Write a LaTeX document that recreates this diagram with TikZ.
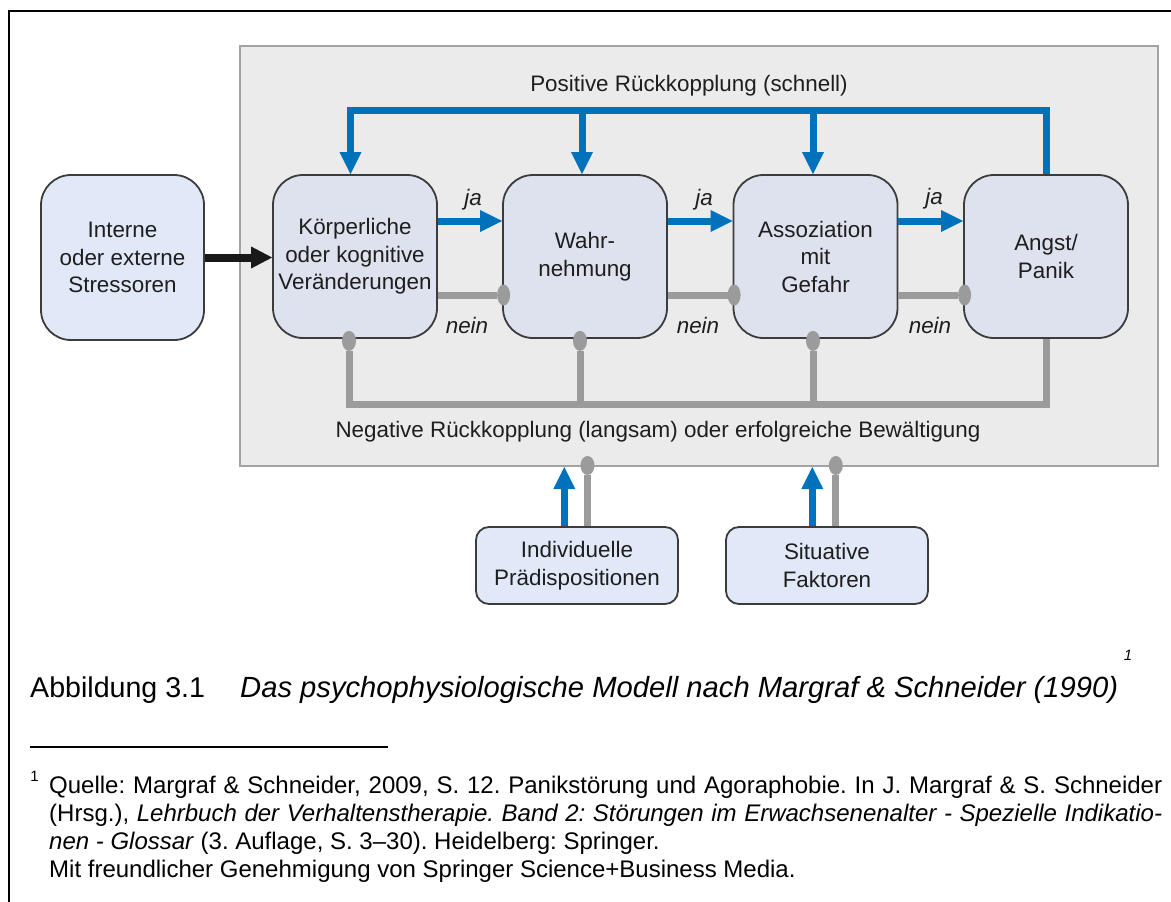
\documentclass[tikz,border=0pt]{standalone}
\usepackage{fontspec}
\setmainfont{Liberation Sans}
\usetikzlibrary{arrows.meta,calc}
\definecolor{myblue}{HTML}{0072BC}
\definecolor{mygray}{HTML}{9B9B9B}
\definecolor{panelfill}{HTML}{EBEBEB}
\definecolor{panelline}{HTML}{A3A3A3}
\definecolor{boxin}{HTML}{DEE2EE}
\definecolor{boxout}{HTML}{E1E8F8}
\definecolor{boxline}{HTML}{3C3C3C}
\definecolor{txt}{HTML}{1E1E1E}
\frenchspacing
\begin{document}
\begin{tikzpicture}[x=1pt,y=-1pt,
  dfont/.style={font=\fontsize{22.4}{27.5}\selectfont},
  bigbox/.style={draw=boxline, line width=1.8pt, rounded corners=30pt, minimum width=164pt, minimum height=163pt, align=center, text=txt, dfont, inner sep=0pt, fill=boxin},
  smallbox/.style={draw=boxline, line width=1.8pt, rounded corners=13pt, minimum width=202pt, minimum height=77pt, align=center, text=txt, dfont, inner sep=0pt, fill=boxout},
  panelbox/.style={draw=panelline, line width=2pt, fill=panelfill, minimum width=918pt, minimum height=420pt, inner sep=0pt},
  lbl/.style={text=txt, dfont, inner sep=0pt},
  ilbl/.style={text=txt, font=\fontsize{22.4}{27.5}\selectfont\itshape, inner sep=0pt},
  posarrow/.style={draw=myblue, line width=7pt, -{Triangle[length=22pt,width=22pt,line width=0pt]}},
  posline/.style={draw=myblue, line width=7pt},
  blackarrow/.style={draw=black!90, line width=8pt, -{Triangle[length=21pt,width=22pt,line width=0pt]}},
  neghor/.style={draw=mygray, line width=7pt, -{Ellipse[length=13pt,width=21pt,line width=0pt]}, shorten >=-8pt},
  negver/.style={draw=mygray, line width=7pt, -{Ellipse[length=20pt,width=14pt,line width=0pt]}, shorten >=-8pt},
  negline/.style={draw=mygray, line width=7pt},
  fntext/.style={text=black, font=\fontsize{24}{28}\selectfont, inner sep=0pt},
  captext/.style={text=black, font=\fontsize{28.6}{34}\selectfont, inner sep=0pt}
]
\useasboundingbox (0,0) rectangle (1171,902);
% outer frame
\draw[line width=2.5pt, black] (9,902) -- (9,11) -- (1171,11);

% panel
\node[panelbox] (panel) at (699,256) {};

% boxes
\node[smallbox, minimum width=163pt, minimum height=165pt, rounded corners=30pt] (ext) at (122.5,257.5) {Interne\\oder externe\\Stressoren};
\node[bigbox] (k) at (355,256.5) {Körperliche\\oder kognitive\\Veränderungen};
\node[bigbox] (w) at (585,256.5) {Wahr-\\nehmung};
\node[bigbox] (a) at (815.5,256.5) {Assoziation\\mit\\Gefahr};
\node[bigbox] (p) at (1046,256.5) {Angst/\\Panik};
\node[smallbox] (ind) at (577,565.5) {Individuelle\\Prädispositionen};
\node[smallbox] (sit) at (827,565.5) {Situative\\Faktoren};

% labels
\node[lbl] (poslbl) at (689,86) {Positive Rückkopplung (schnell)};
\node[lbl] (neglbl) at (658,432) {Negative Rückkopplung (langsam) oder erfolgreiche Bewältigung};
\node[ilbl] (ja1) at (473,200) {ja};
\node[ilbl] (ja2) at (704,200) {ja};
\node[ilbl] (ja3) at (934,199) {ja};
\node[ilbl] (nein1) at (467,325) {nein};
\node[ilbl] (nein2) at (698,325) {nein};
\node[ilbl] (nein3) at (930,325) {nein};

% black arrow
\draw[blackarrow] (ext.east) -- (k.west |- ext.east);

% positive feedback
\coordinate (topK) at (350.5,110);
\coordinate (topW) at (582,110);
\coordinate (topA) at (813,110);
\draw[posline] (p.north) -- (p.north |- topK) -- ([xshift=-3.5pt]topK);
\draw[posarrow] ([yshift=3.5pt]topK) -- (topK |- k.north);
\draw[posarrow] (topW) -- (topW |- w.north);
\draw[posarrow] (topA) -- (topA |- a.north);

% ja arrows
\draw[posarrow] ([yshift=35.5pt]k.east) -- ([yshift=35.5pt]w.west);
\draw[posarrow] ([yshift=35.5pt]w.east) -- ([yshift=35.5pt]a.west);
\draw[posarrow] ([yshift=35.5pt]a.east) -- ([yshift=35.5pt]p.west);

% nein lines
\draw[neghor] ([yshift=-38.5pt]k.east) -- ([yshift=-38.5pt]w.west);
\draw[neghor] ([yshift=-38.5pt]w.east) -- ([yshift=-38.5pt]a.west);
\draw[neghor] ([yshift=-38.5pt]a.east) -- ([yshift=-38.5pt]p.west);

% negative feedback bus
\coordinate (busK) at (349,404);
\coordinate (busW) at (580,404);
\coordinate (busA) at (813,404);
\draw[negline] (p.south) -- (p.south |- busK) -- ([xshift=-3.5pt]busK);
\draw[negver] ([yshift=3.5pt]busK) -- (busK |- k.south);
\draw[negver] (busW) -- (busW |- w.south);
\draw[negver] (busA) -- (busA |- a.south);

% inputs from bottom boxes
\draw[posarrow] ([xshift=-12.7pt]ind.north) -- ([xshift=-12.7pt]ind.north |- panel.south);
\draw[negver, -{Ellipse[length=19pt,width=14pt,line width=0pt]}, shorten >=-11pt] ([xshift=10.5pt]ind.north) -- ([xshift=10.5pt]ind.north |- panel.south);
\draw[posarrow] ([xshift=-14.7pt]sit.north) -- ([xshift=-14.7pt]sit.north |- panel.south);
\draw[negver, -{Ellipse[length=19pt,width=14pt,line width=0pt]}, shorten >=-11pt] ([xshift=8.8pt]sit.north) -- ([xshift=8.8pt]sit.north |- panel.south);

% caption
\node[captext, anchor=base west] (capA) at (30,697) {Abbildung 3.1};
\node[captext, anchor=base west, font=\fontsize{29.2}{34}\selectfont\itshape] (capB) at (240,697) {Das psychophysiologische Modell nach Margraf \& Schneider (1990)};
\node[text=black, font=\fontsize{15}{18}\selectfont\itshape, inner sep=0pt] (capsup) at (1128,655) {1};

% footnote rule
\draw[line width=1.6pt, black] (30,747) -- (388,747);

% footnote
\node[text=black, font=\fontsize{15}{18}\selectfont, inner sep=0pt] (fnsup) at (34.5,776) {1};
\node[fntext, anchor=base west] (f1) at (49,793) {\makebox[1113pt][s]{Quelle: Margraf \& Schneider, 2009, S. 12. Panikstörung und Agoraphobie. In J. Margraf \& S. Schneider}};
\node[fntext, anchor=base west] (f2) at (49,821) {\makebox[1113pt][s]{(Hrsg.), \textit{Lehrbuch der Verhaltenstherapie. Band 2: Störungen im Erwachsenenalter - Spezielle Indikatio-}}};
\node[fntext, anchor=base west] (f3) at (49,849) {\textit{nen - Glossar} (3. Auflage, S. 3–30). Heidelberg: Springer.};
\node[fntext, anchor=base west] (f4) at (49,877) {Mit freundlicher Genehmigung von Springer Science+Business Media.};
\end{tikzpicture}
\end{document}
